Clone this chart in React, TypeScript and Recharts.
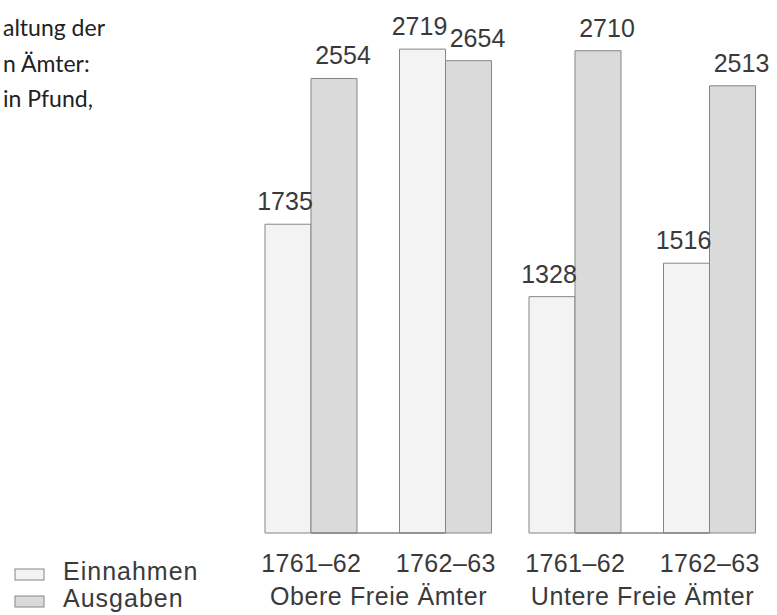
import React from 'react';
import {
  BarChart,
  Bar,
  XAxis,
  YAxis,
  LabelList,
  ReferenceLine
} from 'recharts';

// Werte aus der Abbildung (Pfund)
const periods = ['1761–62', '1762–63'];
const regions = ['Obere Freie Ämter', 'Untere Freie Ämter'];
const einnahmen = [
  [1735, 2719],
  [1328, 1516]
];
const ausgaben = [
  [2554, 2654],
  [2710, 2513]
];
const titleLines = ['altung der', 'n Ämter:', 'in Pfund,'];
const seriesNames = ['Einnahmen', 'Ausgaben'];

const FONT = '"Liberation Sans", Arial, sans-serif';
const TEXT = '#3a3a3a';
const EIN_FILL = '#f3f3f3';
const AUS_FILL = '#dadada';
const STROKE = '#858585';

const buildData = (r: number) =>
  periods.map((p, i) => ({ period: p, ein: einnahmen[r][i], aus: ausgaben[r][i] }));

function Panel({ r, left, width, marginLeft, marginRight }: any) {
  const data = buildData(r);
  return (
    <div style={{ position: 'absolute', left, top: 0 }}>
      <BarChart
        width={width}
        height={615}
        data={data}
        margin={{ top: 0, right: marginRight, bottom: 0, left: marginLeft }}
        barGap={0}
        barCategoryGap={21}
      >
        <XAxis
          dataKey="period"
          axisLine={false}
          tickLine={false}
          tickSize={0}
          tickMargin={21}
          height={82}
          interval={0}
          tick={{ fontFamily: FONT, fontSize: 25, fill: TEXT, letterSpacing: 0.4 }}
          label={{
            value: regions[r],
            position: 'insideBottom',
            offset: 10,
            style: { fontFamily: FONT, fontSize: 25, fill: TEXT, letterSpacing: 0.6 }
          }}
        />
        <YAxis hide domain={[0, 2995]} />
        <ReferenceLine
          segment={[
            { x: periods[0], y: 0 },
            { x: periods[1], y: 0 }
          ]}
          stroke={STROKE}
          strokeWidth={1.5}
        />
        <Bar dataKey="ein" fill={EIN_FILL} stroke={STROKE} isAnimationActive={false}>
          <LabelList
            dataKey="ein"
            position="top"
            offset={14}
            dx={-3}
            style={{ fontFamily: FONT, fontSize: 25, fill: TEXT }}
          />
        </Bar>
        <Bar dataKey="aus" fill={AUS_FILL} stroke={STROKE} isAnimationActive={false}>
          <LabelList
            dataKey="aus"
            position="top"
            offset={14}
            dx={9}
            style={{ fontFamily: FONT, fontSize: 25, fill: TEXT }}
          />
        </Bar>
      </BarChart>
    </div>
  );
}

export default function App() {
  return (
    <div
      style={{
        position: 'absolute',
        left: 0,
        top: 0,
        width: 777,
        height: 615,
        overflow: 'hidden',
        background: '#fff'
      }}
    >
      {/* Titel, links abgeschnitten */}
      <svg width={260} height={130} style={{ position: 'absolute', left: 0, top: 0 }}>
        {titleLines.map((t, i) => (
          <text
            key={t}
            x={3}
            y={36 + i * 35.5}
            fontFamily="Lato, sans-serif"
            fontSize={23}
            fill="#222"
          >
            {t}
          </text>
        ))}
      </svg>

      <Panel r={0} left={0} width={520} marginLeft={244} marginRight={7} />
      <Panel r={1} left={500} width={277} marginLeft={8} marginRight={0} />

      {/* Legende */}
      <svg width={220} height={615} style={{ position: 'absolute', left: 0, top: 0 }}>
        {seriesNames.map((n, i) => (
          <g key={n}>
            <rect
              x={15}
              y={569 + i * 27}
              width={29}
              height={11}
              fill={i === 0 ? EIN_FILL : AUS_FILL}
              stroke={STROKE}
            />
            <text
              x={63}
              y={580 + i * 27}
              fontFamily={FONT}
              fontSize={25}
              fill={TEXT}
              letterSpacing={1}
            >
              {n}
            </text>
          </g>
        ))}
      </svg>
    </div>
  );
}
